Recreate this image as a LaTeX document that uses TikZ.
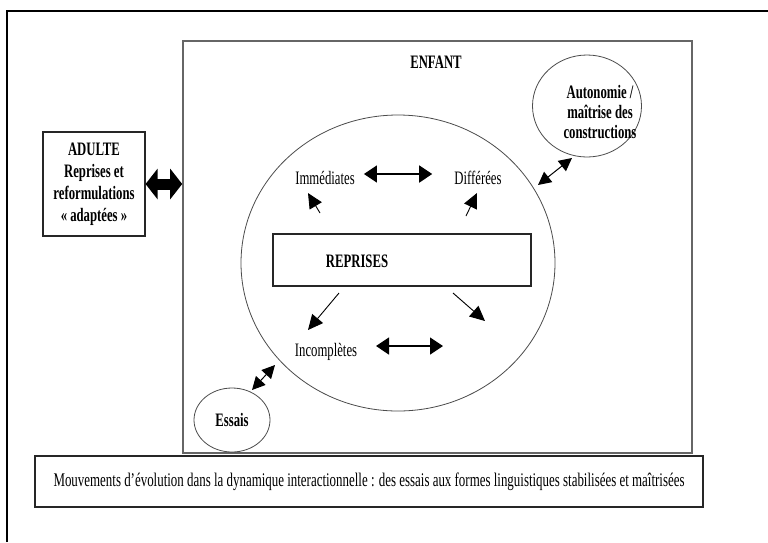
\documentclass[tikz,border=0pt]{standalone}
\usepackage{fontspec}
\setmainfont{Liberation Serif}[FakeStretch=0.67]
\usetikzlibrary{arrows.meta,shapes.geometric}

\tikzset{
  txt/.style={inner sep=0pt, font=\fontsize{19}{22}\selectfont},
  btxt/.style={inner sep=0pt, font=\fontsize{19}{22}\selectfont\bfseries},
  boxline/.style={draw=black!85, line width=1.1pt},
  thinline/.style={draw=black!70, line width=0.8pt},
  dblarrow/.style={line width=1.4pt, {Triangle[length=13pt,width=17pt]}-{Triangle[length=13pt,width=17pt]}},
  sarrow/.style={line width=0.9pt, -{Triangle[length=15pt,width=14pt]}},
  ddarrow/.style={line width=1pt, {Triangle[length=13pt,width=13pt]}-{Triangle[length=13pt,width=13pt]}},
  fatarrow/.style={line width=11pt, {Triangle[length=12pt,width=30pt]}-{Triangle[length=12pt,width=30pt]}}
}

\begin{document}
\begin{tikzpicture}[x=1pt,y=-1pt]
\useasboundingbox[fill=white] (0,0) rectangle (768,542);

% outer frame (only left and top edges visible)
\coordinate (fbl) at (7,542);
\coordinate (ftl) at (7,11);
\coordinate (ftr) at (768,11);
\draw[line width=1.5pt] (fbl) -- (ftl) -- (ftr);

% ENFANT box
\node[draw=black!60, line width=1.6pt, minimum width=509pt, minimum height=412pt] (enfant) at (437.5,247) {};
\node[btxt] (enflbl) at (436,62) {ENFANT};

% ADULTE box
\node[boxline, btxt, align=center, minimum width=102pt, minimum height=104pt] (adulte) at (94,184)
  {ADULTE\\Reprises et\\reformulations\\« adaptées »};
\draw[fatarrow] (adulte.east) -- (adulte.east -| enfant.west);

% big circle
\node[thinline, ellipse, minimum width=314pt, minimum height=296pt] (cercle) at (398,263) {};

% REPRISES box
\node[boxline, minimum width=258pt, minimum height=52pt] (reprbox) at (402,260) {};
\node[btxt] (repr) at (357,261) {REPRISES};

% labels inside the circle
\node[txt] (imm) at (325,178) {Immédiates};
\node[txt] (dif) at (478,178) {Différées};
\node[txt] (inc) at (326,352) {Incomplètes};

% Autonomie ellipse
\node[thinline, ellipse, minimum width=109pt, minimum height=102pt] (auto) at (587,106) {};
\node[btxt, align=center, font=\fontsize{19}{20}\selectfont\bfseries] (autotxt) at (600,112)
  {Autonomie /\\maîtrise des\\constructions};

% Essais circle
\node[thinline, ellipse, minimum width=76pt, minimum height=64pt, btxt] (essais) at (232,420) {Essais};

% caption box
\node[boxline, txt, font=\fontsize{19.3}{22}\selectfont, minimum width=668pt, minimum height=51pt] (legende) at (369,481.5)
  {Mouvements d’évolution dans la dynamique interactionnelle : des essais aux formes linguistiques stabilisées et maîtrisées};

% arrows
\draw[dblarrow] ([xshift=9pt,yshift=4pt]imm.east) -- ([xshift=-22pt,yshift=4pt]dif.west);
\coordinate (incA) at (376,346);
\coordinate (incB) at (443,346);
\draw[dblarrow] (incA) -- (incB);

\coordinate (immtail) at (320,213);
\coordinate (immtip) at (308,193);
\draw[sarrow] (immtail) -- (immtip);

\coordinate (diftail) at (466,216);
\coordinate (diftip) at (477,193);
\draw[sarrow] (diftail) -- (diftip);

\coordinate (dltail) at (339,293);
\coordinate (dltip) at (308,330);
\draw[sarrow] (dltail) -- (dltip);

\coordinate (drtail) at (453,293);
\coordinate (drtip) at (485,321);
\draw[sarrow] (drtail) -- (drtip);

\coordinate (autoA) at (538,185);
\coordinate (autoB) at (572,158);
\draw[ddarrow] (autoA) -- (autoB);

\coordinate (essA) at (252,390);
\coordinate (essB) at (275,365);
\draw[ddarrow] (essA) -- (essB);
\end{tikzpicture}
\end{document}
